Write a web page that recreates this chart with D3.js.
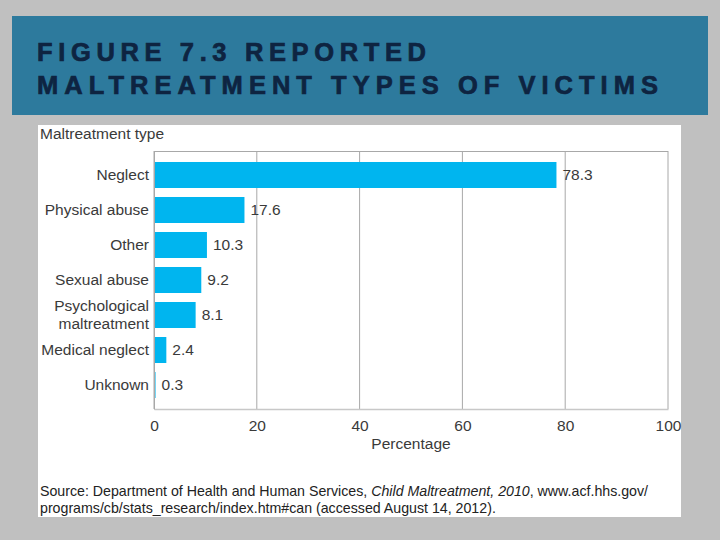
<!DOCTYPE html>
<html lang="en">
<head>
    <meta charset="UTF-8">
    <title>Figure 7.3 Reported Maltreatment Types of Victims</title>
    <script src="https://d3js.org/d3.v7.min.js"></script>
    <style>
        body { margin: 0; background: #c0c0c0; }
        svg { display: block; }
    </style>
</head>
<body>
    <script>
        // Chart data
        const categories = ["Neglect", "Physical abuse", "Other", "Sexual abuse", "Psychological maltreatment", "Medical neglect", "Unknown"];
        const categoryLines = [["Neglect"], ["Physical abuse"], ["Other"], ["Sexual abuse"], ["Psychological", "maltreatment"], ["Medical neglect"], ["Unknown"]];
        const percentages = [78.3, 17.6, 10.3, 9.2, 8.1, 2.4, 0.3];
        const xTicks = [0, 20, 40, 60, 80, 100];
        const titleLines = ["FIGURE 7.3 REPORTED", "MALTREATMENT TYPES OF VICTIMS"];

        const width = 720, height = 540;
        const svg = d3.select("body").append("svg")
            .attr("width", width)
            .attr("height", height);

        svg.append("rect").attr("width", width).attr("height", height).attr("fill", "#c0c0c0");

        // Title band
        svg.append("rect")
            .attr("x", 12).attr("y", 16)
            .attr("width", 696).attr("height", 99)
            .attr("fill", "#2d7a9d");

        const titleWidths = [389, 621];
        svg.append("g")
            .selectAll("text")
            .data(titleLines)
            .enter().append("text")
            .attr("x", 37)
            .attr("y", (d, i) => 61 + i * 33)
            .attr("textLength", (d, i) => titleWidths[i])
            .attr("lengthAdjust", "spacing")
            .attr("font-family", "Liberation Sans, Arial, sans-serif")
            .attr("font-weight", "bold")
            .attr("font-size", 25.5)
            .attr("fill", "#0e2441")
            .attr("stroke", "#0e2441")
            .attr("stroke-width", 0.7)
            .text(d => d);

        // White figure panel
        svg.append("rect")
            .attr("x", 38).attr("y", 125)
            .attr("width", 643).attr("height", 392)
            .attr("fill", "#ffffff");

        const font = "Liberation Sans, Arial, sans-serif";
        const textColor = "#3a3a3a";

        svg.append("text")
            .attr("x", 40).attr("y", 139)
            .attr("font-family", font).attr("font-size", 15.5)
            .attr("fill", textColor)
            .text("Maltreatment type");

        // Plot area
        const plotLeft = 154, plotRight = 668, plotTop = 151, plotBottom = 409;

        const x = d3.scaleLinear().domain([0, 100]).range([plotLeft, plotRight]);
        const y = d3.scaleBand().domain(categories).range([plotTop, plotBottom])
            .paddingInner(0.257).paddingOuter(0.314);

        // gridlines
        svg.append("g")
            .selectAll("line")
            .data(xTicks)
            .enter().append("line")
            .attr("x1", d => x(d)).attr("x2", d => x(d))
            .attr("y1", plotTop).attr("y2", plotBottom)
            .attr("stroke", "#a8a8a8")
            .attr("stroke-width", 1);

        // frame top
        svg.append("line")
            .attr("x1", plotLeft).attr("x2", plotRight)
            .attr("y1", plotTop + 0.5).attr("y2", plotTop + 0.5)
            .attr("stroke", "#a8a8a8");

        // bars
        svg.append("g")
            .selectAll("rect")
            .data(percentages)
            .enter().append("rect")
            .attr("x", x(0))
            .attr("y", (d, i) => y(categories[i]))
            .attr("width", d => x(d) - x(0))
            .attr("height", y.bandwidth())
            .attr("fill", "#00b5ef");

        // value labels
        svg.append("g")
            .selectAll("text")
            .data(percentages)
            .enter().append("text")
            .attr("x", d => x(d) + 6)
            .attr("y", (d, i) => y(categories[i]) + y.bandwidth() / 2)
            .attr("dy", "0.35em")
            .attr("font-family", font).attr("font-size", 15.5)
            .attr("fill", textColor)
            .text(d => d.toFixed(1));

        // x axis
        const xAxis = svg.append("g")
            .attr("transform", `translate(0,${plotBottom})`)
            .call(d3.axisBottom(x).tickValues(xTicks).tickSize(0).tickPadding(11));
        xAxis.select(".domain").attr("stroke", "#c8c8c8").attr("stroke-width", 1.5);
        xAxis.selectAll("text")
            .attr("font-family", font).attr("font-size", 15.5)
            .attr("fill", textColor);

        // y axis category labels
        const yAxis = svg.append("g")
            .attr("transform", `translate(${plotLeft},0)`)
            .call(d3.axisLeft(y).tickSize(0).tickPadding(5));
        yAxis.select(".domain").attr("stroke", "#a8a8a8");
        yAxis.selectAll(".tick text")
            .attr("font-family", font).attr("font-size", 15.5)
            .attr("fill", textColor)
            .attr("dy", null)
            .each(function(d, i) {
                const lines = categoryLines[i];
                const t = d3.select(this).text(null);
                lines.forEach((ln, j) => {
                    t.append("tspan")
                        .attr("x", -5)
                        .attr("dy", j === 0 ? (0.32 - (lines.length - 1) * 0.55) + "em" : "1.1em")
                        .text(ln);
                });
            });

        svg.append("text")
            .attr("x", (plotLeft + plotRight) / 2).attr("y", 449)
            .attr("text-anchor", "middle")
            .attr("font-family", font).attr("font-size", 15.5)
            .attr("fill", textColor)
            .text("Percentage");

        // Source note
        const src = svg.append("text")
            .attr("font-family", font).attr("font-size", 14.2)
            .attr("fill", "#222");
        const l1 = src.append("tspan").attr("x", 40).attr("y", 496);
        l1.append("tspan").text("Source: Department of Health and Human Services, ");
        l1.append("tspan").attr("font-style", "italic").text("Child Maltreatment, 2010");
        l1.append("tspan").text(", www.acf.hhs.gov/");
        src.append("tspan").attr("x", 40).attr("y", 513)
            .text("programs/cb/stats_research/index.htm#can (accessed August 14, 2012).");
    </script>
</body>
</html>
